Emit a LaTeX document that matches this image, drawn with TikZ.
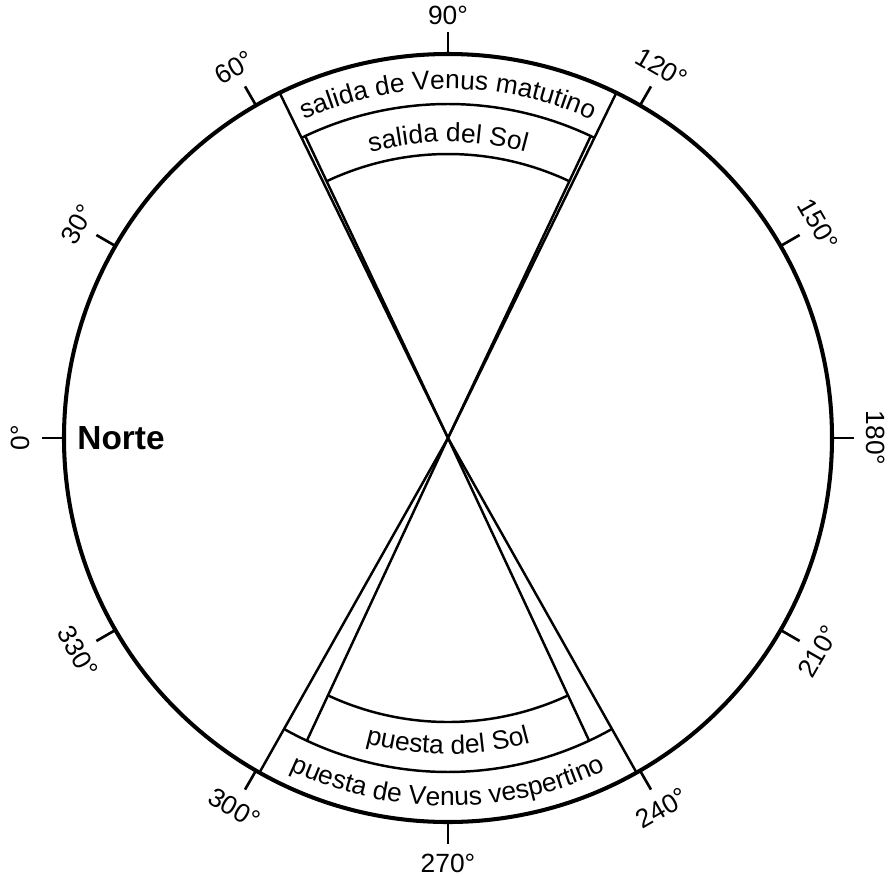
\documentclass[tikz,border=0pt]{standalone}
\usepackage{fontspec}
\setmainfont{Liberation Sans}
\usetikzlibrary{decorations.text}

\begin{document}
\begin{tikzpicture}[
  rim/.style={line width=2.3pt},
  edge/.style={line width=1.4pt},
  tick/.style={line width=1.5pt},
  deg/.style={font=\fontsize{15}{18}\selectfont},
  ]

\useasboundingbox (-8.96,-8.78) rectangle (8.88,8.76);

% Horizon
\coordinate (O) at (0,0);
\draw[rim] (O) circle (7.68);

% Ticks
\draw[tick] (180:7.68)--(180:8.12);
\draw[tick] (150:7.68)--(150:8.12);
\draw[tick] (120:7.68)--(120:8.12);
\draw[tick] (90:7.68)--(90:8.12);
\draw[tick] (60:7.68)--(60:8.12);
\draw[tick] (30:7.68)--(30:8.12);
\draw[tick] (0:7.68)--(0:8.12);
\draw[tick] (-30:7.68)--(-30:8.12);
\draw[tick] (-60:7.68)--(-60:8.12);
\draw[tick] (-90:7.68)--(-90:8.12);
\draw[tick] (-120:7.68)--(-120:8.12);
\draw[tick] (-150:7.68)--(-150:8.12);

% Degrees
\node[deg,rotate=90] (d0) at (180:8.55) {0°};
\node[deg,rotate=60] (d30) at (150:8.55) {30°};
\node[deg,rotate=30] (d60) at (120:8.55) {60°};
\node[deg] (d90) at (90:8.45) {90°};
\node[deg,rotate=-30] (d120) at (60:8.55) {120°};
\node[deg,rotate=-60] (d150) at (30:8.55) {150°};
\node[deg,rotate=-90] (d180) at (0:8.55) {180°};
\node[deg,rotate=60] (d210) at (-30:8.55) {210°};
\node[deg,rotate=30] (d240) at (-60:8.55) {240°};
\node[deg] (d270) at (-90:8.5) {270°};
\node[deg,rotate=-30] (d300) at (-120:8.55) {300°};
\node[deg,rotate=-60] (d330) at (-150:8.55) {330°};

% North
\node[font=\fontsize{19}{23}\selectfont\bfseries] (norte) at (-6.54,0) {Norte};

%--------------------------------------------------
% Rising
%--------------------------------------------------
\draw[edge] (O)--(116:7.68) (O)--(64:7.68);
\draw[edge] (116:6.68) arc (116:64:6.68);

\draw[edge] (O)--(115.3:6.68) (O)--(64.7:6.68);
\draw[edge] (115.3:5.68) arc (115.3:64.7:5.68);

\path[decorate,decoration={text along path,text align=center,
  text={|\fontsize{15}{18}\selectfont|salida de Venus matutino}}]
  (116:6.98) arc (116:64:6.98);
\path[decorate,decoration={text along path,text align=center,
  text={|\fontsize{15}{18}\selectfont|salida del Sol}}]
  (115.3:5.92) arc (115.3:64.7:5.92);

%--------------------------------------------------
% Setting
%--------------------------------------------------
\draw[edge] (O)--(-119.4:7.68) (O)--(-60.6:7.68);
\draw[edge] (-119.4:6.68) arc (-119.4:-60.6:6.68);

\draw[edge] (O)--(-115:6.68) (O)--(-65:6.68);
\draw[edge] (-115:5.68) arc (-115:-65:5.68);

\path[decorate,decoration={text along path,text align=center,
  text={|\fontsize{15}{18}\selectfont|puesta de Venus vespertino}}]
  (-119.4:7.36) arc (-119.4:-60.6:7.36);
\path[decorate,decoration={text along path,text align=center,
  text={|\fontsize{15}{18}\selectfont|puesta del Sol}}]
  (-115:6.32) arc (-115:-65:6.32);

\end{tikzpicture}
\end{document}
